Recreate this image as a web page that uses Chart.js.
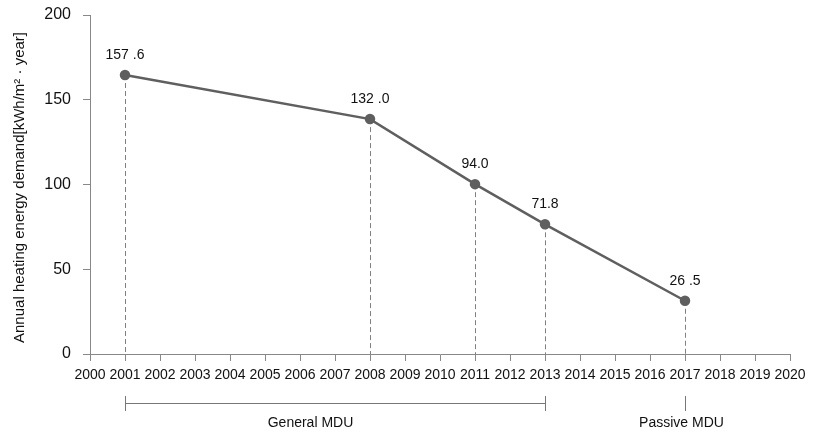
<!DOCTYPE html>
<html>
<head>
<meta charset="utf-8">
<script src="https://cdn.jsdelivr.net/npm/chart.js@4/dist/chart.umd.min.js"></script>
<style>
  html, body { margin: 0; padding: 0; background: #fff; }
  #wrap { width: 827px; height: 438px; }
</style>
</head>
<body>
<div id="wrap"><canvas id="canvas" width="827" height="438"></canvas></div>
<script>
var years = [2001, 2008, 2011, 2013, 2017];
var demand = [164.6, 138.6, 100.2, 76.5, 31.4];
var valueLabels = ['157 .6', '132 .0', '94.0', '71.8', '26 .5'];
var yTicks = [0, 50, 100, 150, 200];
var groups = [
  { name: 'General MDU', from: 2001, to: 2013, at: 2006.3 },
  { name: 'Passive MDU', from: 2017, to: 2017, at: 2016.9 }
];

var axisColor = '#888888';
var lineColor = '#5f5f5f';
var font = "'Liberation Sans', Arial, sans-serif";

var points = years.map(function(y, i) { return { x: y, y: demand[i] }; });

var annotate = {
  id: 'annotate',
  beforeDatasetsDraw: function(chart) {
    var ctx = chart.ctx, xs = chart.scales.x, ys = chart.scales.y;
    ctx.save();
    ctx.strokeStyle = '#808080';
    ctx.lineWidth = 1;
    ctx.setLineDash([5, 3]);
    points.forEach(function(p) {
      var px = Math.round(xs.getPixelForValue(p.x)) + 0.5;
      ctx.beginPath();
      ctx.moveTo(px, ys.getPixelForValue(p.y));
      ctx.lineTo(px, ys.getPixelForValue(0));
      ctx.stroke();
    });
    ctx.restore();
  },
  afterDatasetsDraw: function(chart) {
    var ctx = chart.ctx, xs = chart.scales.x;
    var meta = chart.getDatasetMeta(0);
    ctx.save();
    ctx.fillStyle = '#111111';
    ctx.font = '14px ' + font;
    ctx.textAlign = 'center';
    ctx.textBaseline = 'middle';
    meta.data.forEach(function(el, i) {
      ctx.fillText(valueLabels[i], el.x, el.y - 20);
    });

    // group brackets under the axis
    ctx.strokeStyle = '#777777';
    ctx.lineWidth = 1;
    groups.forEach(function(g) {
      var x1 = Math.round(xs.getPixelForValue(g.from)) + 0.5;
      var x2 = Math.round(xs.getPixelForValue(g.to)) + 0.5;
      ctx.beginPath();
      ctx.moveTo(x1, 396); ctx.lineTo(x1, 411);
      if (x2 !== x1) {
        ctx.moveTo(x1, 403.5); ctx.lineTo(x2, 403.5);
        ctx.moveTo(x2, 396); ctx.lineTo(x2, 411);
      }
      ctx.stroke();
      ctx.fillText(g.name, xs.getPixelForValue(g.at), 423);
    });

    // y axis title
    ctx.translate(20, (chart.chartArea.top + chart.chartArea.bottom) / 2 + 3);
    ctx.rotate(-Math.PI / 2);
    ctx.font = '15px ' + font;
    ctx.fillText('Annual heating energy demand[kWh/m\u00B2 \u00B7 year]', 0, 0);
    ctx.restore();
  }
};

new Chart(document.getElementById('canvas'), {
  type: 'line',
  data: {
    datasets: [{
      data: points,
      borderColor: lineColor,
      backgroundColor: lineColor,
      borderWidth: 2.5,
      pointRadius: 4,
      pointBackgroundColor: lineColor,
      pointBorderColor: lineColor,
      tension: 0
    }]
  },
  options: {
    responsive: false,
    animation: false,
    layout: { padding: { top: 15, right: 37, left: 0, bottom: 0 } },
    plugins: { legend: { display: false }, tooltip: { enabled: false } },
    scales: {
      x: {
        type: 'linear',
        min: 2000,
        max: 2020,
        afterFit: function(s) {
          s.height = 84;
          s.paddingLeft = 0;
          s.paddingRight = 0;
        },
        afterBuildTicks: function(s) {
          var t = [];
          for (var y = 2000; y <= 2020; y++) t.push({ value: y });
          s.ticks = t;
        },
        grid: { drawOnChartArea: false, tickLength: 7, color: axisColor },
        border: { color: axisColor, width: 1 },
        ticks: {
          autoSkip: false,
          maxRotation: 0,
          color: '#111111',
          padding: 6,
          font: { family: font, size: 14 },
          callback: function(v) { return String(v); }
        }
      },
      y: {
        min: 0,
        max: 200,
        afterFit: function(s) {
          s.width = 90;
          s.paddingTop = 0;
          s.paddingBottom = 0;
        },
        afterBuildTicks: function(s) {
          s.ticks = yTicks.map(function(v) { return { value: v }; });
        },
        grid: { drawOnChartArea: false, tickLength: 7, color: axisColor },
        border: { color: axisColor, width: 1 },
        ticks: {
          color: '#111111',
          padding: 12,
          font: { family: font, size: 16 }
        }
      }
    }
  },
  plugins: [annotate]
});
</script>
</body>
</html>
